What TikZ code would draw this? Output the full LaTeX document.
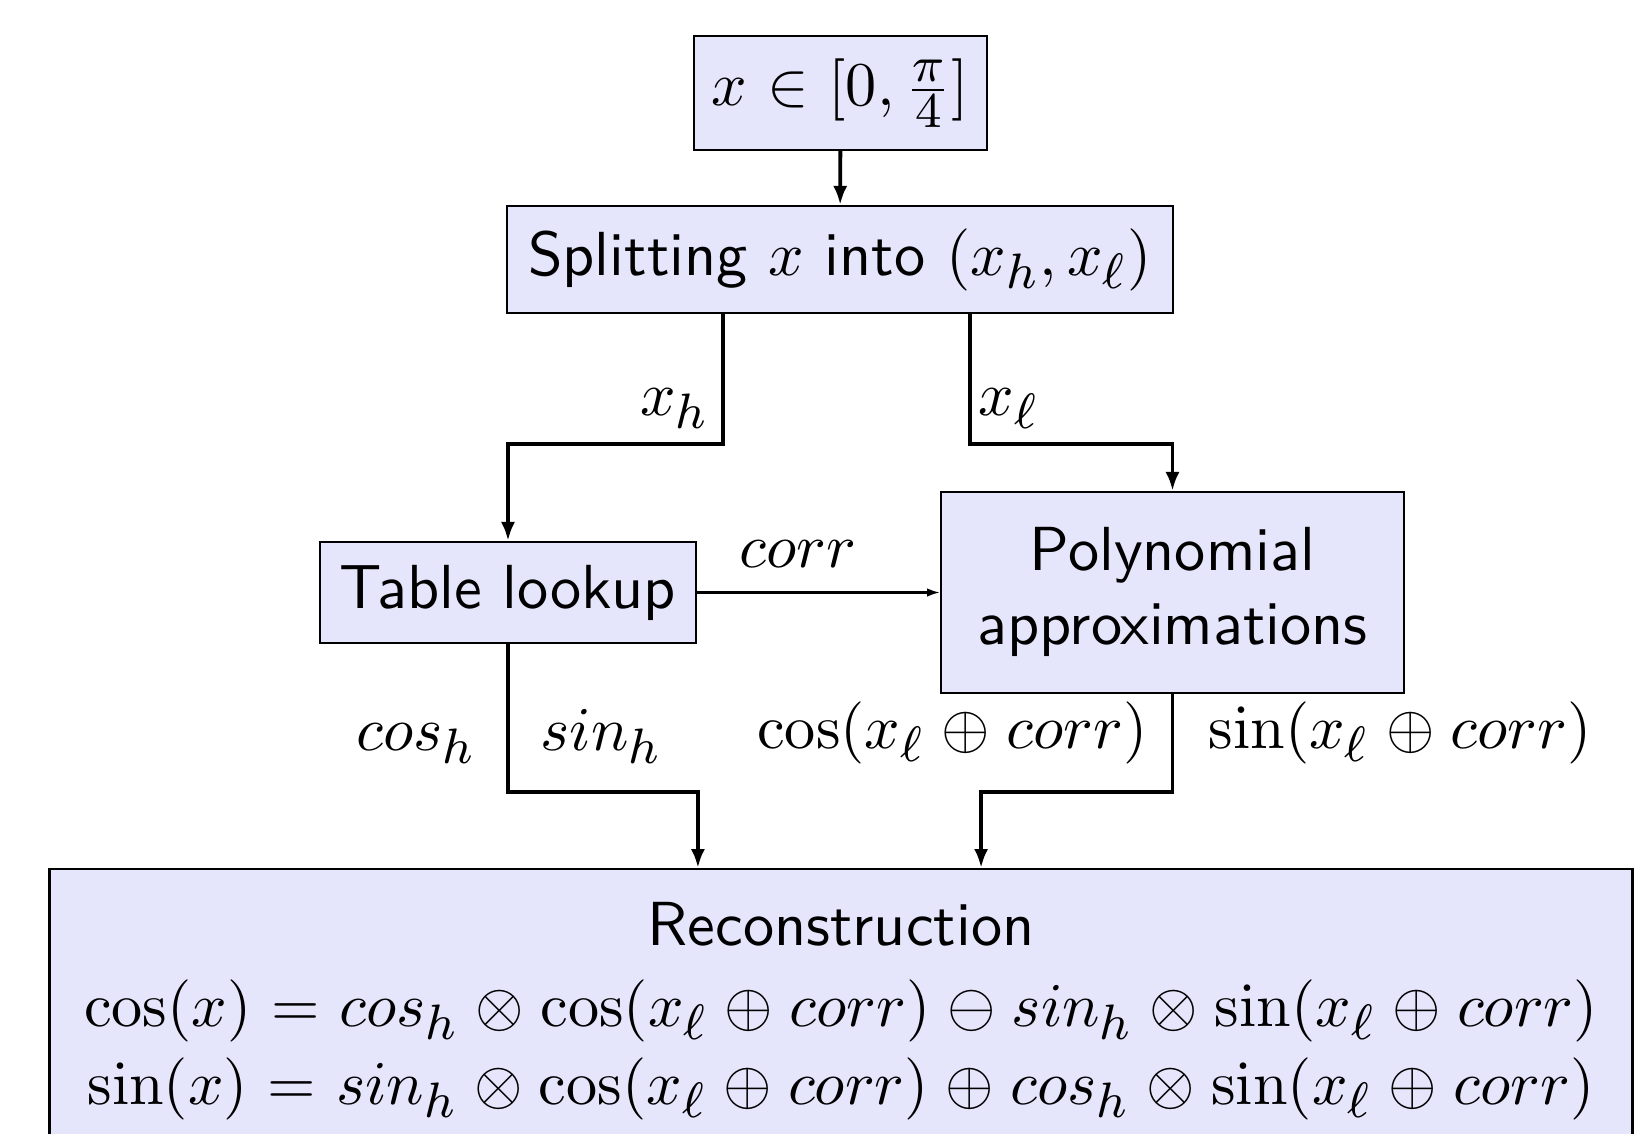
\documentclass[tikz,border=0pt]{standalone}
\usepackage{graphicx}
\usetikzlibrary{arrows.meta}
\DeclareMathSizes{10}{10}{8}{6}
\medmuskip=4.75mu plus 2mu minus 4mu
\thickmuskip=5.75mu plus 5mu
\definecolor{boxfill}{RGB}{229,229,251}
\newcommand\SF{1.77}
\newcommand\SB[1]{\scalebox{\SF}{#1}}
\begin{document}
\begin{tikzpicture}[x=0.01cm,y=-0.01cm,
  every node/.style={font=\sffamily},
  box/.style={draw, line width=0.6pt, fill=boxfill, inner sep=0pt, align=center},
  conn/.style={line width=1.1pt, -{Latex[length=5.4pt,width=4pt]}},
  thinconn/.style={line width=0.6pt, -{Latex[length=3.6pt,width=2.4pt]}},
  lbl/.style={inner sep=0pt}]
\clip (0,0) rectangle (1639,1133);
\node[box, minimum width=2.93cm, minimum height=1.14cm] (top) at (840.5,93) {\SB{$x\in[0,\frac{\pi}{4}]$}};
\node[box, minimum width=6.66cm, minimum height=1.07cm] (split) at (840,259.5) {\SB{Splitting $x$ into $(x_h,x_\ell)$}};
\node[box, minimum width=3.76cm, minimum height=1.01cm] (table) at (508,592.5) {\SB{Table lookup}};
\node[box, minimum width=4.63cm, minimum height=2.01cm] (poly) at (1172.5,592.5) {\SB{\begin{tabular}{@{}c@{}}Polynomial\\approximations\end{tabular}}};
\node[box, minimum width=15.82cm, minimum height=3.2cm, anchor=north] (recon) at (841,868) {};
\node[anchor=base] (rtitle) at (841,945) {\SB{Reconstruction}};
\node[anchor=base] (rcos) at (841,1026) {\SB{$\cos(x) = cos_h \otimes \cos(x_\ell \oplus corr) \ominus sin_h \otimes \sin(x_\ell \oplus corr)$}};
\node[anchor=base] (rsin) at (841,1104) {\SB{$\sin(x) = sin_h \otimes \cos(x_\ell \oplus corr) \oplus cos_h \otimes \sin(x_\ell \oplus corr)$}};
\draw[conn] (top) -- (split);
\draw[conn] ([xshift=-1.17cm]split.south) -- ++(0,129.5) -| (table.north);
\draw[conn] ([xshift=1.30cm]split.south) -- ++(0,129.5) -| (poly.north);
\draw[thinconn] (table) -- (poly);
\draw[conn] (table.south) -- ++(0,147.5) -| ([xshift=-1.43cm]recon.north);
\draw[conn] (poly.south) -- ++(0,97.5) -| ([xshift=1.40cm]recon.north);
\node[lbl, anchor=base east] (lxh) at (710,415) {\SB{$x_h$}};
\node[lbl, anchor=base west] (lxl) at (978,415) {\SB{$x_\ell$}};
\node[lbl, anchor=base] (lcorr) at (798,567) {\SB{$corr$}};
\node[lbl, anchor=base east] (lcosh) at (477,750) {\SB{$cos_h$}};
\node[lbl, anchor=base west] (lsinh) at (540,750) {\SB{$sin_h$}};
\node[lbl, anchor=base east] (lcosl) at (1148,748) {\SB{$\cos(x_\ell\oplus corr)$}};
\node[lbl, anchor=base west] (lsinl) at (1208,748) {\SB{$\sin(x_\ell\oplus corr)$}};
\end{tikzpicture}
\end{document}
